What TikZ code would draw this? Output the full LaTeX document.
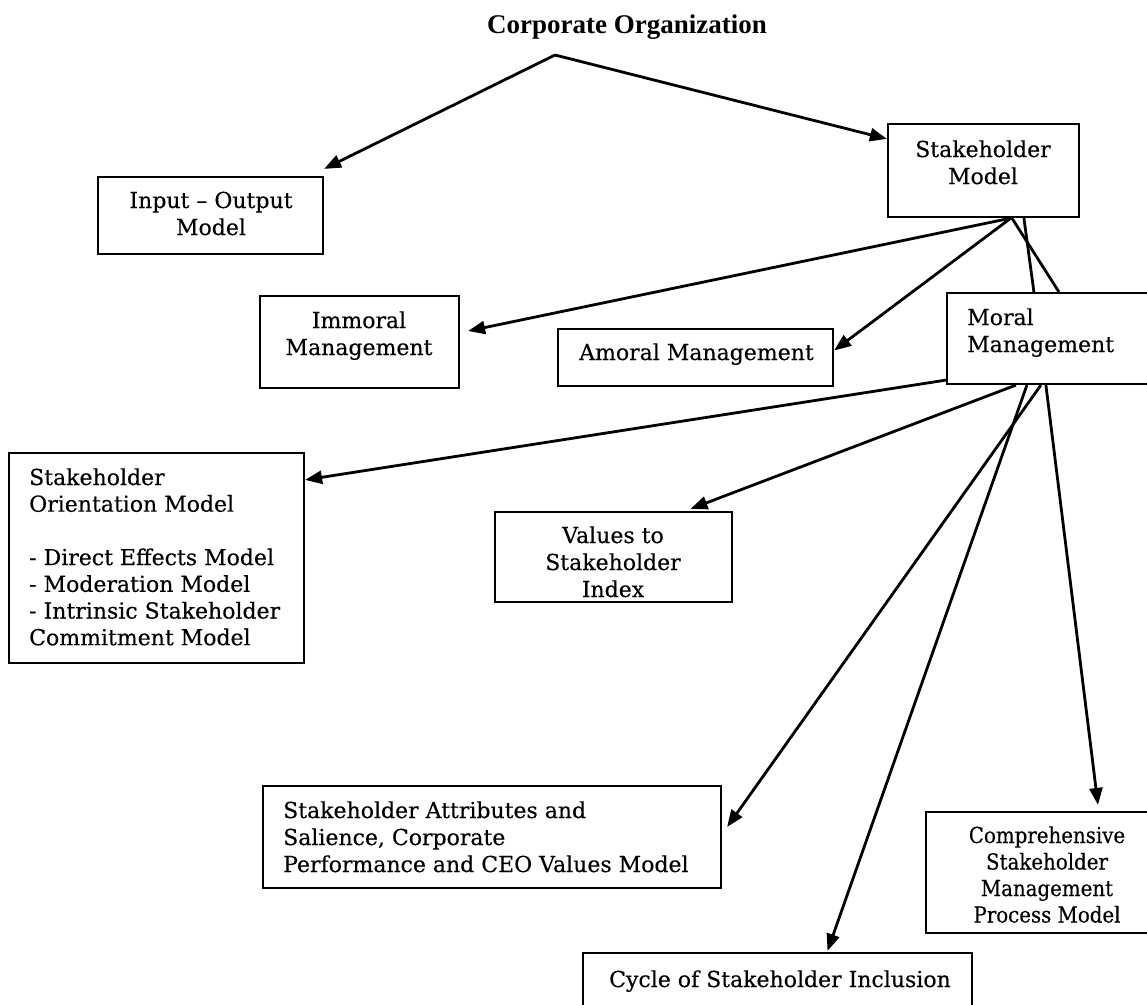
\documentclass[tikz,border=0pt]{standalone}
\usepackage{fontspec}
\setmainfont{DejaVu Serif}[FakeBold=0.3]
\newfontfamily\titlefont{Liberation Serif}
\newfontfamily\condfont{DejaVu Serif}[FakeStretch=0.9,FakeBold=0.3]
\usetikzlibrary{arrows.meta,calc}
\newcommand\mycpar[2]{\parbox[t]{#1pt}{\centering #2}}
\newcommand\mylpar[2]{\parbox[t]{#1pt}{\raggedright #2}}
\tikzset{
  boxnode/.style={draw, line width=2.2pt, fill=white, rectangle, inner sep=0pt},
  txt/.style={inner sep=0pt, font=\fontsize{22}{27}\selectfont},
  ctxt/.style={inner sep=0pt, font=\condfont\fontsize{22}{26.5}\selectfont},
  conn/.style={line width=2.8pt},
  arr/.style={conn, -{Triangle[length=17pt,width=13pt]}},
  titlestyle/.style={inner sep=0pt, font=\titlefont\bfseries\fontsize{27}{31}\selectfont}
}
\begin{document}
\begin{tikzpicture}[x=1pt,y=-1pt]
\fill[white] (0,0) rectangle (1147,1004);
\useasboundingbox (0,0) rectangle (1147,1004);

% boxes
\node[boxnode, minimum width=225pt, minimum height=77pt]  (io)  at (210.5,215.5) {};
\node[boxnode, minimum width=191pt, minimum height=93pt]  (sm)  at (983.5,170.5) {};
\node[boxnode, minimum width=199pt, minimum height=92pt]  (imm) at (359.5,342) {};
\node[boxnode, minimum width=275pt, minimum height=57pt]  (amo) at (695.5,357.5) {};
\node[boxnode, minimum width=203pt, minimum height=91pt]  (mor) at (1048.5,338.5) {};
\node[boxnode, minimum width=295pt, minimum height=210pt] (ori) at (156.5,558) {};
\node[boxnode, minimum width=237pt, minimum height=90pt]  (val) at (613.5,557) {};
\node[boxnode, minimum width=458pt, minimum height=102pt] (att) at (492,837) {};
\node[boxnode, minimum width=389pt, minimum height=59pt]  (cyc) at (777.5,982.5) {};
\node[boxnode, minimum width=224pt, minimum height=121pt] (com) at (1038,872.5) {};

% texts
\node[titlestyle, anchor=base] (title) at (627,33) {Corporate Organization};
\node[txt, anchor=base] (iot) at (211,208) {\mycpar{220}{Input – Output\\Model}};
\node[txt, anchor=base] (smt) at (983,157) {\mycpar{185}{Stakeholder\\Model}};
\node[txt, anchor=base] (immt) at (359,328) {\mycpar{195}{Immoral\\Management}};
\node[txt, anchor=base west] (amot) at (579,360) {Amoral Management};
\node[txt, anchor=base west] (mort) at (967,325) {\mylpar{175}{Moral\\Management}};
\node[txt, anchor=base west, font=\fontsize{22}{26.7}\selectfont] (orit) at (29,485) {\mylpar{272}{Stakeholder\\Orientation Model\\[26.7pt]- Direct Effects Model\\- Moderation Model\\- Intrinsic Stakeholder\\Commitment Model}};
\node[txt, anchor=base] (valt) at (613,543) {\mycpar{232}{Values to\\Stakeholder\\Index}};
\node[txt, anchor=base west] (attt) at (283,818) {\mylpar{430}{Stakeholder Attributes and\\Salience, Corporate\\Performance and CEO Values Model}};
\node[txt, anchor=base west] (cyct) at (609,987) {Cycle of Stakeholder Inclusion};
\node[ctxt, anchor=base] (comt) at (1047,843) {\mycpar{215}{Comprehensive\\Stakeholder\\Management\\Process Model}};

% connectors
\coordinate (apex) at (555,55);
\draw[arr] (apex) -- ([yshift=7pt]io.north east);
\draw[arr] (apex) -- ([yshift=-16pt]sm.north west);

\draw[arr] ([xshift=124pt]sm.south west) -- ([xshift=8pt,yshift=11pt]imm.east);
\draw[arr] ([xshift=124pt]sm.south west) -- ([yshift=7pt]amo.east);
\draw[conn] ([xshift=125pt]sm.south west) -- ([xshift=113pt]mor.north west);
\draw[conn] ([xshift=137pt]sm.south west) -- ([xshift=88pt]mor.north west);

\draw[arr] ([yshift=5pt]mor.south west) -- ([yshift=-28pt]ori.north east);
\draw[arr] ([xshift=70pt]mor.south west) -- ([xshift=77pt,yshift=2pt]val.north);
\draw[arr] ([xshift=95pt]mor.south west) -- ([xshift=5pt,yshift=10pt]att.east);
\draw[arr] ([xshift=81pt]mor.south west) -- ([xshift=50pt,yshift=1pt]cyc.north);
\draw[arr] ([xshift=100pt]mor.south west) -- ([xshift=60pt,yshift=6pt]com.north);
\end{tikzpicture}
\end{document}
